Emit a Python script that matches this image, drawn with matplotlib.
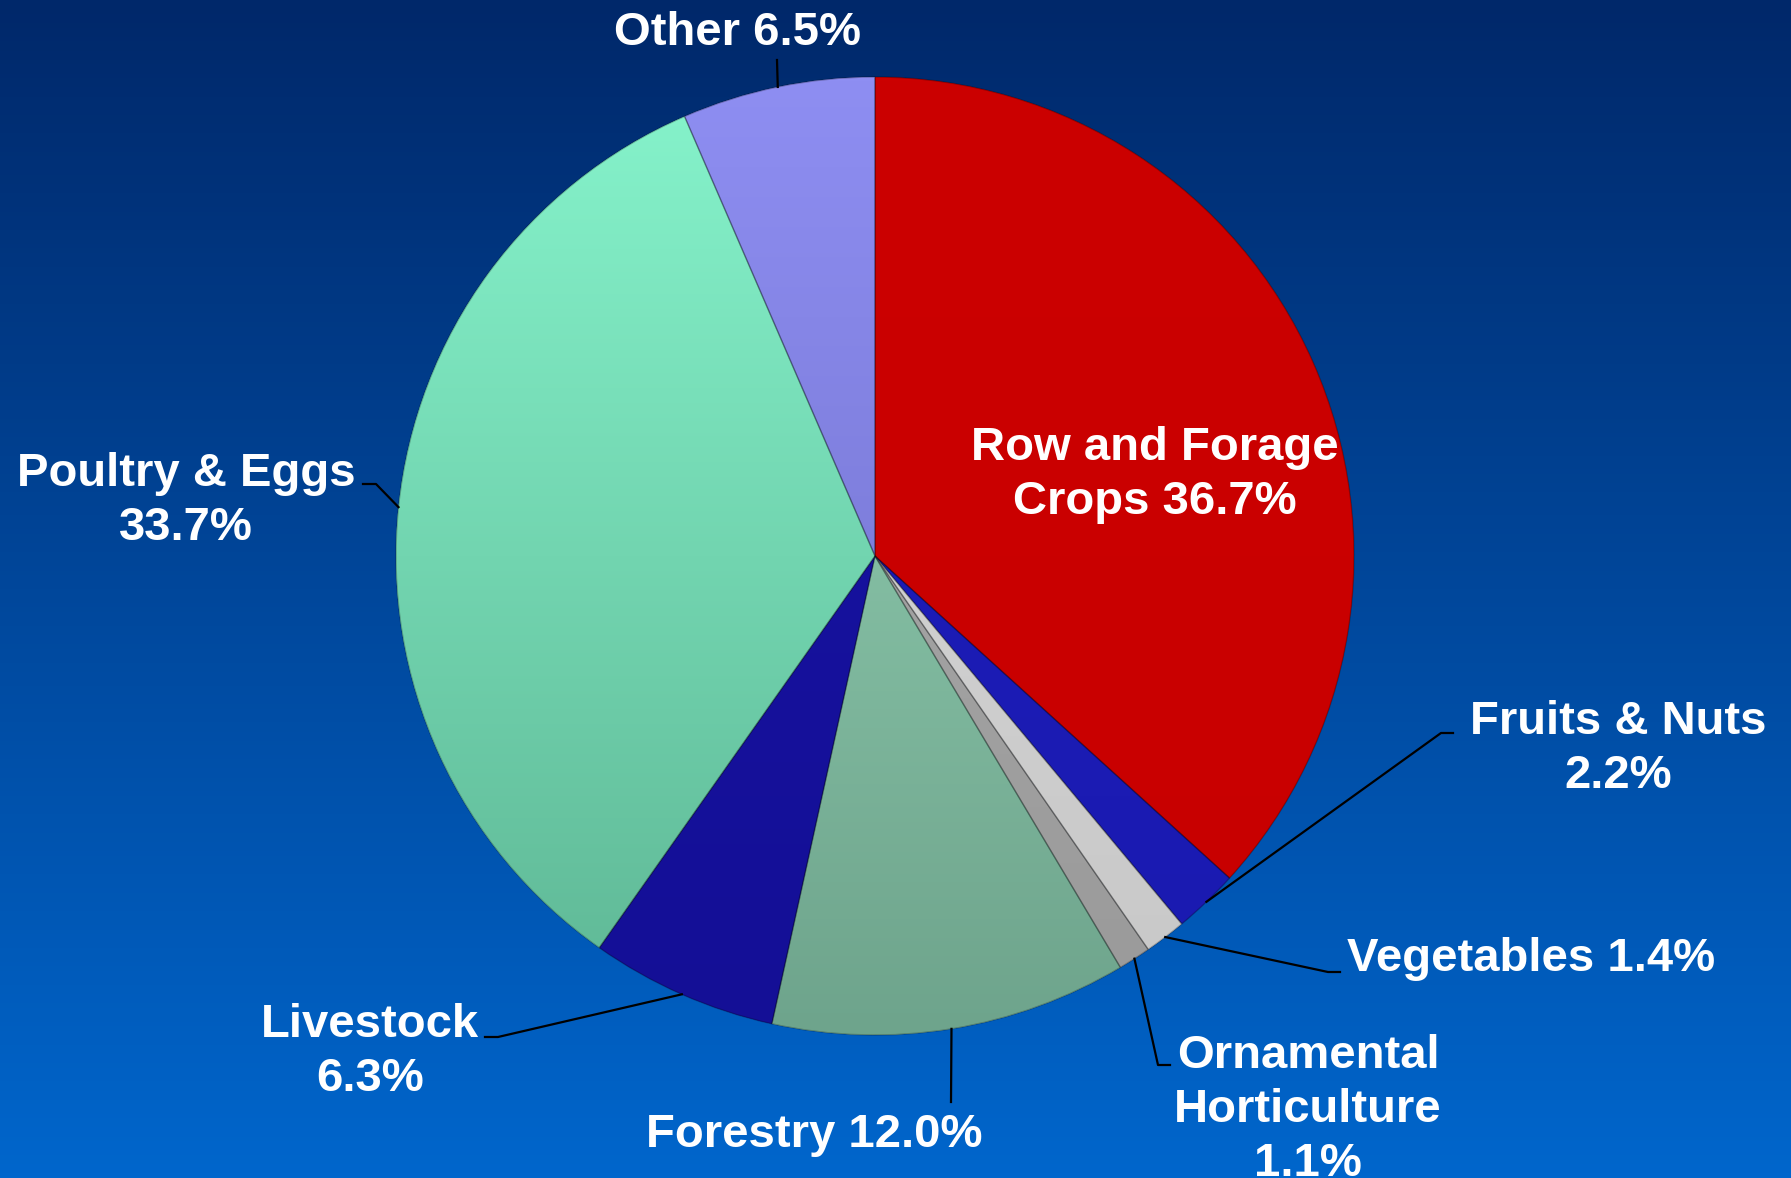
# pie chart - farm gate value shares
import matplotlib.pyplot as plt
import numpy as np
from matplotlib.colors import LinearSegmentedColormap
from matplotlib.patches import PathPatch

names = ['Row and Forage\nCrops', 'Fruits & Nuts', 'Vegetables', 'Ornamental\nHorticulture',
         'Forestry', 'Livestock', 'Poultry & Eggs', 'Other']
values = [36.7, 2.2, 1.4, 1.1, 12.0, 6.3, 33.7, 6.5]
seps = [' ', '\n', ' ', '\n', ' ', '\n', '\n', ' ']

# slice colours (top, bottom of a vertical gradient)
top_colors = ['#cc0000', '#1e1ebc', '#d8d8d8', '#ababab', '#98d6b8', '#1814a4', '#86f4cc', '#8e8ef2']
bot_colors = ['#c80000', '#1a1ab0', '#c8c8c8', '#9a9a9a', '#6ea48c', '#140f96', '#5eb694', '#6e6ec6']

W, H = 1791, 1178
cx, cy, r = 875, H - 556, 479

# label layout, screen pixels (x, y from top)
label_xy = [(1155, 475), (1618, 749), (1531, 959), (1308, 1110),
            (814, 1135), (370, 1052), (186, 501), (737, 33)]
leader_pts = [None, [(1441, 733), (1453, 733)], [(1328, 972), (1340, 972)],
              [(1158, 1065), (1170, 1065)], [(951, 1102)], [(498, 1037), (485, 1037)],
              [(376, 484), (363, 484)], [(777, 60)]]

plt.rcParams['font.family'] = ['Liberation Sans', 'DejaVu Sans']

fig = plt.figure(figsize=(W / 100, H / 100), dpi=100)
ax = fig.add_axes([0, 0, 1, 1])

wedges, _ = ax.pie(values, colors=top_colors, startangle=90, counterclock=False,
                   center=(cx, cy), radius=r, wedgeprops=dict(linewidth=0))
ax.set_xlim(0, W)
ax.set_ylim(0, H)
ax.set_aspect('equal')
ax.axis('off')

# background gradient
grad = np.linspace(0, 1, 256).reshape(-1, 1)
bg = LinearSegmentedColormap.from_list('bg', ['#0066cc', '#00286a'])
ax.imshow(grad, extent=(0, W, 0, H), origin='lower', cmap=bg, aspect='auto', zorder=0)

for w, tc, bc in zip(wedges, top_colors, bot_colors):
    cm = LinearSegmentedColormap.from_list('s', [bc, tc])
    im = ax.imshow(grad, extent=(cx - r, cx + r, cy - r, cy + r), origin='lower',
                   cmap=cm, aspect='auto', zorder=2)
    im.set_clip_path(w)
    ax.add_patch(PathPatch(w.get_path(), transform=w.get_transform(), fill=False,
                           edgecolor=(0, 0, 0, 0.25), linewidth=1.0, zorder=3))

for w, name, v, sep, (lx, ly), pts in zip(wedges, names, values, seps, label_xy, leader_pts):
    ax.text(lx, H - ly, f'{name}{sep}{v:.1f}%', ha='center', va='center',
            multialignment='center', color='white', fontsize=34, fontweight='bold',
            linespacing=1.28, zorder=5)
    if pts is None:
        continue
    ang = np.deg2rad((w.theta1 + w.theta2) / 2)
    xs = [cx + r * np.cos(ang)] + [p[0] for p in pts]
    ys = [cy + r * np.sin(ang)] + [H - p[1] for p in pts]
    ax.plot(xs, ys, color='black', linewidth=1.6, zorder=4)

fig.savefig('out.png', dpi=100)
